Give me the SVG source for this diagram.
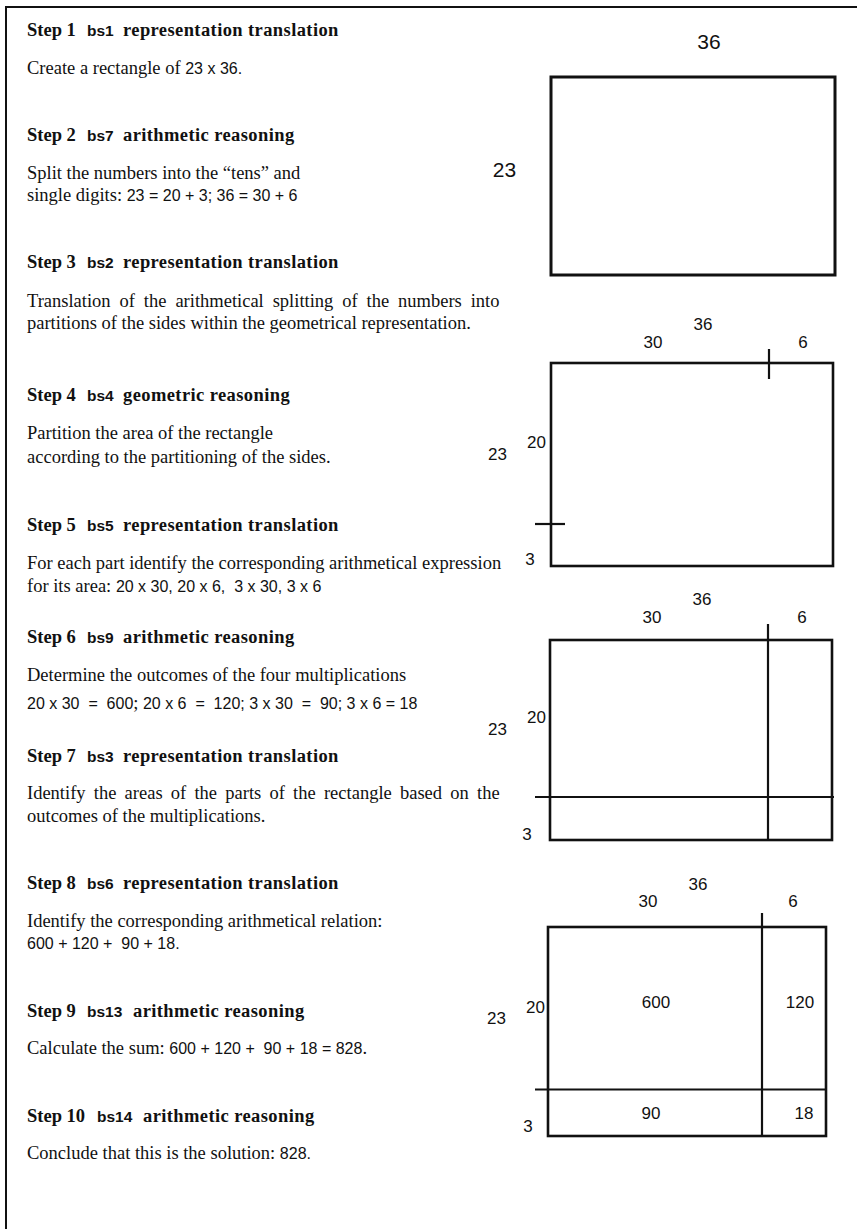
<svg xmlns="http://www.w3.org/2000/svg" width="857" height="1229" viewBox="0 0 857 1229" xml:space="preserve">
<style>
  text { white-space: pre; }
  .bg { fill: #ffffff; }
  .frame { fill: none; stroke: #111; stroke-width: 2; }
  .h { font-family: "Liberation Serif", "Times New Roman", serif; font-weight: bold; font-size: 18.5px; fill: #111; }
  .hd { letter-spacing: 0.4px; }
  .bs { font-family: "Liberation Sans", Arial, sans-serif; font-weight: bold; font-size: 15.5px; fill: #111; }
  .t { font-family: "Liberation Serif", "Times New Roman", serif; font-size: 18.5px; fill: #111; }
  .n { font-family: "Liberation Sans", Arial, sans-serif; font-size: 16px; }
  .lbl { font-family: "Liberation Sans", Arial, sans-serif; font-size: 17px; fill: #111; text-anchor: middle; }
  .lblL { font-family: "Liberation Sans", Arial, sans-serif; font-size: 21px; fill: #111; text-anchor: middle; }
  .box { fill: none; stroke: #111; stroke-width: 2.6; }
  .box1 { fill: none; stroke: #111; stroke-width: 3; }
  .div { stroke: #111; stroke-width: 2.2; fill: none; }
</style>
<rect class="bg" x="0" y="0" width="857" height="1229"/>
<g id="frame">
  <path class="frame" d="M6,1229 V7 H857"/>
</g>

<g id="step1">
  <text class="h" x="27" y="36">Step 1</text>
  <text class="bs" x="87" y="36">bs1</text>
  <text class="h hd" x="123" y="36">representation translation</text>
  <text class="t" x="27" y="74">Create a rectangle of <tspan class="n">23 x 36.</tspan></text>
</g>
<g id="step2">
  <text class="h" x="27" y="141">Step 2</text>
  <text class="bs" x="87" y="141">bs7</text>
  <text class="h hd" x="123" y="141">arithmetic reasoning</text>
  <text class="t" x="27" y="179">Split the numbers into the “tens” and</text>
  <text class="t" x="27" y="201">single digits: <tspan class="n">23 = 20 + 3; 36 = 30 + 6</tspan></text>
</g>
<g id="step3">
  <text class="h" x="27" y="268">Step 3</text>
  <text class="bs" x="87" y="268">bs2</text>
  <text class="h hd" x="123" y="268">representation translation</text>
  <text class="t" x="27" y="307" word-spacing="4.3">Translation of the arithmetical splitting of the numbers into</text>
  <text class="t" x="27" y="329">partitions of the sides within the geometrical representation.</text>
</g>
<g id="step4">
  <text class="h" x="27" y="401">Step 4</text>
  <text class="bs" x="87" y="401">bs4</text>
  <text class="h hd" x="123" y="401">geometric reasoning</text>
  <text class="t" x="27" y="439">Partition the area of the rectangle</text>
  <text class="t" x="27" y="463">according to the partitioning of the sides.</text>
</g>
<g id="step5">
  <text class="h" x="27" y="531">Step 5</text>
  <text class="bs" x="87" y="531">bs5</text>
  <text class="h hd" x="123" y="531">representation translation</text>
  <text class="t" x="27" y="569">For each part identify the corresponding arithmetical expression</text>
  <text class="t" x="27" y="592">for its area: <tspan class="n">20 x 30, 20 x 6,  3 x 30, 3 x 6</tspan></text>
</g>
<g id="step6">
  <text class="h" x="27" y="643">Step 6</text>
  <text class="bs" x="87" y="643">bs9</text>
  <text class="h hd" x="123" y="643">arithmetic reasoning</text>
  <text class="t" x="27" y="681">Determine the outcomes of the four multiplications</text>
  <text class="t" x="27" y="709"><tspan class="n">20 x 30  =  600</tspan>;<tspan class="n"> 20 x 6  =  120; 3 x 30  =  90; 3 x 6 = 18</tspan></text>
</g>
<g id="step7">
  <text class="h" x="27" y="762">Step 7</text>
  <text class="bs" x="87" y="762">bs3</text>
  <text class="h hd" x="123" y="762">representation translation</text>
  <text class="t" x="27" y="799" word-spacing="3.6">Identify the areas of the parts of the rectangle based on the</text>
  <text class="t" x="27" y="822">outcomes of the multiplications.</text>
</g>
<g id="step8">
  <text class="h" x="27" y="889">Step 8</text>
  <text class="bs" x="87" y="889">bs6</text>
  <text class="h hd" x="123" y="889">representation translation</text>
  <text class="t" x="27" y="927">Identify the corresponding arithmetical relation:</text>
  <text class="t n" x="27" y="949">600 + 120 +  90 + 18.</text>
</g>
<g id="step9">
  <text class="h" x="27" y="1017">Step 9</text>
  <text class="bs" x="87" y="1017">bs13</text>
  <text class="h hd" x="133" y="1017">arithmetic reasoning</text>
  <text class="t" x="27" y="1054">Calculate the sum: <tspan class="n">600 + 120 +  90 + 18 = 828</tspan>.</text>
</g>
<g id="step10">
  <text class="h" x="27" y="1122">Step 10</text>
  <text class="bs" x="97" y="1122">bs14</text>
  <text class="h hd" x="143" y="1122">arithmetic reasoning</text>
  <text class="t" x="27" y="1159">Conclude that this is the solution: <tspan class="n">828.</tspan></text>
</g>

<g id="figure1">
  <rect class="box1" x="551" y="77" width="284" height="198"/>
  <text class="lblL" x="709" y="49">36</text>
  <text class="lblL" x="504.5" y="177">23</text>
</g>

<g id="figure2">
  <rect class="box" x="551" y="363" width="282" height="203"/>
  <line class="div" x1="769" y1="349" x2="769" y2="379"/>
  <line class="div" x1="535" y1="524" x2="565" y2="524"/>
  <text class="lbl" x="703" y="330">36</text>
  <text class="lbl" x="653" y="348">30</text>
  <text class="lbl" x="803" y="348">6</text>
  <text class="lbl" x="536.5" y="448">20</text>
  <text class="lbl" x="497.5" y="460">23</text>
  <text class="lbl" x="530" y="565">3</text>
</g>

<g id="figure3">
  <rect class="box" x="550" y="640" width="282" height="200"/>
  <line class="div" x1="768" y1="624" x2="768" y2="840"/>
  <line class="div" x1="535" y1="797" x2="834" y2="797"/>
  <text class="lbl" x="702" y="605">36</text>
  <text class="lbl" x="652" y="623">30</text>
  <text class="lbl" x="802" y="623">6</text>
  <text class="lbl" x="536.5" y="723">20</text>
  <text class="lbl" x="497.5" y="735">23</text>
  <text class="lbl" x="527" y="840">3</text>
</g>

<g id="figure4">
  <rect class="box" x="548" y="927" width="278" height="209"/>
  <line class="div" x1="762" y1="913" x2="762" y2="1136"/>
  <line class="div" x1="535" y1="1089.5" x2="826" y2="1089.5"/>
  <text class="lbl" x="698" y="890">36</text>
  <text class="lbl" x="648" y="907">30</text>
  <text class="lbl" x="793" y="907">6</text>
  <text class="lbl" x="535.5" y="1013">20</text>
  <text class="lbl" x="496.5" y="1024">23</text>
  <text class="lbl" x="656" y="1008">600</text>
  <text class="lbl" x="800" y="1008">120</text>
  <text class="lbl" x="651" y="1119">90</text>
  <text class="lbl" x="804" y="1119">18</text>
  <text class="lbl" x="528" y="1132">3</text>
</g>

<g id="connectors"></g>
</svg>
